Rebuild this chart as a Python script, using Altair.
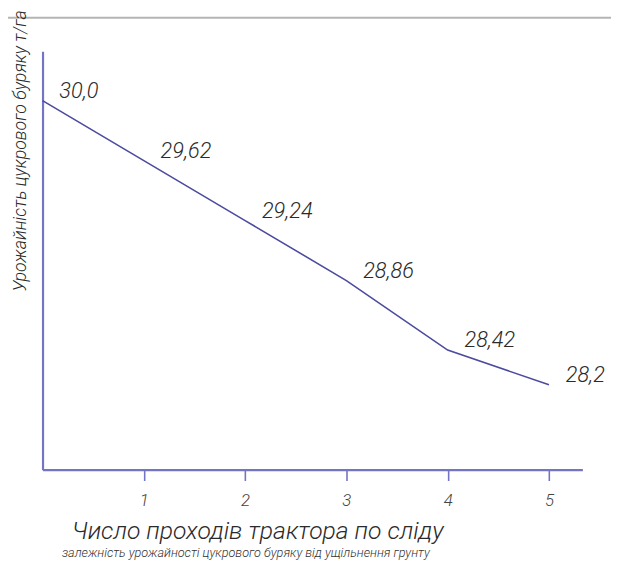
import altair as alt
import pandas as pd

passes = [0, 1, 2, 3, 4, 5]
yields = [30.0, 29.62, 29.24, 28.86, 28.42, 28.2]
labels = ["30,0", "29,62", "29,24", "28,86", "28,42", "28,2"]
x_ticks = [1, 2, 3, 4, 5]

x_title = "Число проходів трактора по сліду"
x_subtitle = "залежність урожайності цукрового буряку від ущільнення грунту"
y_title = "Урожайність цукрового буряку т/га"

FONT = "Roboto"
AXIS_COLOR = "#7474c4"
LINE_COLOR = "#4b4ba0"
TEXT_COLOR = "#2a2a2a"

df = pd.DataFrame({"x": passes, "y": yields, "label": labels})

xs = alt.Scale(domain=[0, 5.33], nice=False, zero=False)
ys = alt.Scale(domain=[27.6625, 30.3125], nice=False, zero=False)

base = alt.Chart(df)

line = base.mark_line(color=LINE_COLOR, strokeWidth=1.6).encode(
    x=alt.X("x:Q", scale=xs, axis=alt.Axis(
        values=x_ticks, title=None, grid=False,
        domainColor=AXIS_COLOR, domainWidth=2.2,
        tickColor=AXIS_COLOR, tickWidth=1.6, tickSize=11,
        labelFont=FONT, labelFontStyle="italic", labelFontWeight=300,
        labelFontSize=17, labelColor="#444", labelPadding=12, format="d")),
    y=alt.Y("y:Q", scale=ys, axis=alt.Axis(
        title=None, grid=False, ticks=False, labels=False,
        domainColor=AXIS_COLOR, domainWidth=2.2)),
)

text = base.mark_text(
    align="left", baseline="middle", dx=17, dy=-10,
    font=FONT, fontStyle="italic", fontWeight=300, fontSize=22, color=TEXT_COLOR,
).encode(x=alt.X("x:Q", scale=xs), y=alt.Y("y:Q", scale=ys), text="label:N")

title_df = pd.DataFrame({"t": [x_title]})
xt = alt.Chart(title_df).mark_text(
    align="center", baseline="alphabetic", font=FONT, fontStyle="italic",
    fontWeight=300, fontSize=25, color=TEXT_COLOR,
).encode(x=alt.value(218), y=alt.value(494), text="t:N")

sub_df = pd.DataFrame({"t": [x_subtitle]})
st = alt.Chart(sub_df).mark_text(
    align="center", baseline="alphabetic", font=FONT, fontStyle="italic",
    fontWeight=300, fontSize=12.8, color="#333",
).encode(x=alt.value(206), y=alt.value(513), text="t:N")

yt_df = pd.DataFrame({"t": [y_title]})
yt = alt.Chart(yt_df).mark_text(
    align="center", baseline="middle", angle=270, font=FONT, fontStyle="italic",
    fontWeight=300, fontSize=18, color=TEXT_COLOR,
).encode(x=alt.value(-22), y=alt.value(101), text="t:N")

border = alt.Chart(title_df).mark_rule(color="#b4b4b4", strokeWidth=2).encode(
    x=alt.value(-35), x2=alt.value(576), y=alt.value(-34))

chart = alt.layer(border, line, text, xt, st, yt).properties(
    width=547, height=424,
    padding={"left": 35, "top": 40, "right": 29, "bottom": 107},
    autosize=alt.AutoSizeParams(type="none"),
    background="white",
).configure_view(stroke=None)

chart.save("out.html", embed_options={"renderer": "svg", "actions": False})
